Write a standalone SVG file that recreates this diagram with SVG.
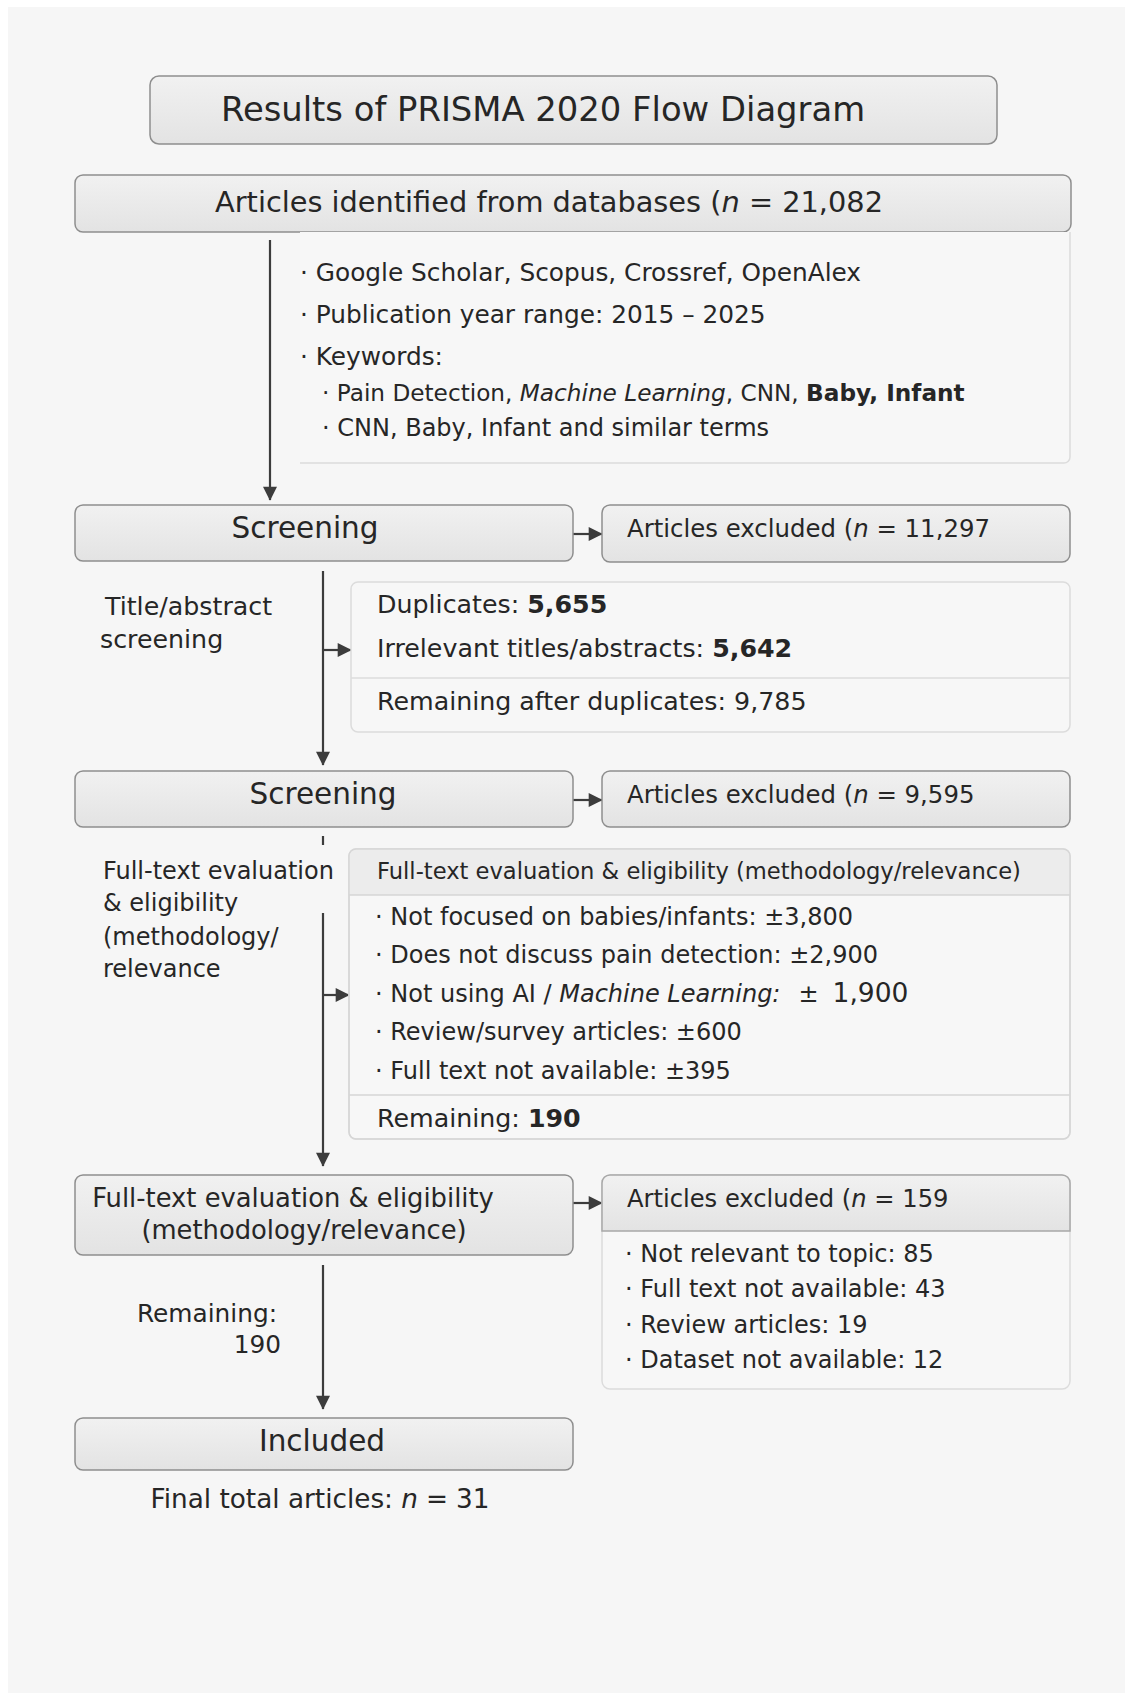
<svg xmlns="http://www.w3.org/2000/svg" width="1133" height="1695" viewBox="0 0 1133 1695">
<style>
text{font-family:"DejaVu Sans","Open Sans","Liberation Sans",sans-serif;fill:#262626}
.box{fill:url(#g);stroke:#8e8e8e;stroke-width:1.5}
.panel{fill:#f7f7f7;stroke:#dcdcdc;stroke-width:1.5}
.line{stroke:#3c3c3c;stroke-width:2.2;fill:none}
.h{font-size:29.5px}
.x{font-size:25.3px}
.e{font-size:24.4px}
.t{font-size:24.8px}
.u{font-size:24px}
.c{text-anchor:middle}
.b{font-weight:bold}
.i{font-style:italic}
</style>
<defs>
<linearGradient id="g" x1="0" y1="0" x2="0" y2="1"><stop offset="0" stop-color="#f1f1f1"/><stop offset="1" stop-color="#e3e3e3"/></linearGradient>
<marker id="a" viewBox="0 0 10 10" refX="9.5" refY="5" markerWidth="16" markerHeight="14" markerUnits="userSpaceOnUse" orient="auto"><path d="M0,0 L10,5 L0,10 z" fill="#3c3c3c"/></marker>
</defs>
<rect x="0" y="0" width="1133" height="1695" fill="#ffffff"/>
<rect x="8" y="7" width="1117" height="1686" fill="#f6f6f6"/>

<g id="connectors">
<line class="line" x1="270" y1="240" x2="270" y2="500" marker-end="url(#a)"/>
<line class="line" x1="573" y1="534" x2="602" y2="534" marker-end="url(#a)"/>
<line class="line" x1="323" y1="571" x2="323" y2="765" marker-end="url(#a)"/>
<line class="line" x1="323" y1="650" x2="351" y2="650" marker-end="url(#a)"/>
<line class="line" x1="573" y1="800" x2="602" y2="800" marker-end="url(#a)"/>
<line class="line" x1="323" y1="836" x2="323" y2="845"/>
<line class="line" x1="323" y1="913" x2="323" y2="1166" marker-end="url(#a)"/>
<line class="line" x1="323" y1="995" x2="349" y2="995" marker-end="url(#a)"/>
<line class="line" x1="573" y1="1203" x2="602" y2="1203" marker-end="url(#a)"/>
<line class="line" x1="323" y1="1265" x2="323" y2="1409" marker-end="url(#a)"/>
</g>

<g id="title">
<rect class="box" x="150" y="76" width="847" height="68" rx="9"/>
<text class="c" x="543" y="121" font-size="33.8">Results of PRISMA 2020 Flow Diagram</text>
</g>

<g id="identified">
<rect class="box" x="75" y="175" width="996" height="57" rx="8"/>
<text class="c" x="549" y="212" font-size="28.8">Articles identified from databases (<tspan class="i">n</tspan> = 21,082</text>
</g>

<g id="search-details">
<path d="M300,232 H1070 V457 a6,6 0 0 1 -6,6 H300 z" fill="#f7f7f7"/>
<path d="M1070,232 V457 a6,6 0 0 1 -6,6 H300" fill="none" stroke="#dcdcdc" stroke-width="1.5"/>
<text class="t" x="300" y="281">· Google Scholar, Scopus, Crossref, OpenAlex</text>
<text class="t" x="300" y="323">· Publication year range: 2015 – 2025</text>
<text class="t" x="300" y="365">· Keywords:</text>
<text x="322" y="401" font-size="23.2">· Pain Detection, <tspan class="i">Machine Learning</tspan>, CNN, <tspan class="b">Baby, Infant</tspan></text>
<text class="u" x="322" y="436">· CNN, Baby, Infant and similar terms</text>
</g>

<g id="screening1">
<rect class="box" x="75" y="505" width="498" height="56" rx="8"/>
<text class="c h" x="305" y="538">Screening</text>
</g>

<g id="excluded1">
<rect class="box" x="602" y="505" width="468" height="57" rx="8"/>
<text class="e" x="627" y="537">Articles excluded (<tspan class="i">n</tspan> = 11,297</text>
</g>

<g id="screening1-note">
<text class="x" x="105" y="615">Title/abstract</text>
<text class="x" x="100" y="648">screening</text>
</g>

<g id="screening1-details">
<rect class="panel" x="351" y="582" width="719" height="150" rx="7"/>
<line x1="351" y1="678" x2="1070" y2="678" stroke="#dcdcdc" stroke-width="1.5"/>
<text class="x" x="377" y="613">Duplicates: <tspan class="b">5,655</tspan></text>
<text class="x" x="377" y="657">Irrelevant titles/abstracts: <tspan class="b">5,642</tspan></text>
<text class="x" x="377" y="710">Remaining after duplicates: 9,785</text>
</g>

<g id="screening2">
<rect class="box" x="75" y="771" width="498" height="56" rx="8"/>
<text class="c h" x="323" y="804">Screening</text>
</g>

<g id="excluded2">
<rect class="box" x="602" y="771" width="468" height="56" rx="8"/>
<text class="e" x="627" y="803">Articles excluded (<tspan class="i">n</tspan> = 9,595</text>
</g>

<g id="screening2-note">
<text class="u" x="103" y="879">Full-text evaluation</text>
<text class="u" x="103" y="911">&amp; eligibility</text>
<text class="u" x="103" y="945">(methodology/</text>
<text class="u" x="103" y="977">relevance</text>
</g>

<g id="screening2-details">
<rect class="panel" x="349" y="849" width="721" height="290" rx="7"/>
<path d="M349,895 V856 a7,7 0 0 1 7,-7 H1063 a7,7 0 0 1 7,7 V895 z" fill="#ececec"/>
<line x1="349" y1="895" x2="1070" y2="895" stroke="#d6d6d6" stroke-width="1.5"/>
<rect x="349" y="849" width="721" height="290" rx="7" fill="none" stroke="#d6d6d6" stroke-width="1.5"/>
<line x1="349" y1="1095" x2="1070" y2="1095" stroke="#d6d6d6" stroke-width="1.5"/>
<text x="377" y="879" font-size="22.6">Full-text evaluation &amp; eligibility (methodology/relevance)</text>
<text class="u" x="375" y="925">· Not focused on babies/infants: ±3,800</text>
<text class="u" x="375" y="963">· Does not discuss pain detection: ±2,900</text>
<text class="u" x="375" y="1002">· Not using AI / <tspan class="i">Machine Learning:</tspan><tspan dx="18">±</tspan><tspan dx="14" font-size="26.5">1,900</tspan></text>
<text class="u" x="375" y="1040">· Review/survey articles: ±600</text>
<text class="u" x="375" y="1079">· Full text not available: ±395</text>
<text class="x" x="377" y="1127">Remaining: <tspan class="b">190</tspan></text>
</g>

<g id="fulltext">
<rect class="box" x="75" y="1175" width="498" height="80" rx="8"/>
<text class="c" x="293" y="1207" font-size="25.8">Full-text evaluation &amp; eligibility</text>
<text class="c" x="304" y="1239" font-size="25.8">(methodology/relevance)</text>
</g>

<g id="excluded3">
<rect class="panel" x="602" y="1175" width="468" height="214" rx="8"/>
<path d="M602,1231 V1183 a8,8 0 0 1 8,-8 H1062 a8,8 0 0 1 8,8 V1231 z" fill="url(#g)" stroke="#a8a8a8" stroke-width="1.5"/>
<text x="627" y="1207" font-size="24.2">Articles excluded (<tspan class="i">n</tspan> = 159</text>
<text class="u" x="625" y="1262">· Not relevant to topic: 85</text>
<text class="u" x="625" y="1297">· Full text not available: 43</text>
<text class="u" x="625" y="1333">· Review articles: 19</text>
<text class="u" x="625" y="1368">· Dataset not available: 12</text>
</g>

<g id="remaining-note">
<text class="t" x="277" y="1322" text-anchor="end">Remaining:</text>
<text class="t" x="281" y="1353" text-anchor="end">190</text>
</g>

<g id="included">
<rect class="box" x="75" y="1418" width="498" height="52" rx="8"/>
<text class="c h" x="322" y="1451">Included</text>
</g>

<g id="final">
<text class="c" x="320" y="1508" font-size="26.3">Final total articles: <tspan class="i">n</tspan><tspan dx="8">=</tspan><tspan dx="8">31</tspan></text>
</g>
</svg>
